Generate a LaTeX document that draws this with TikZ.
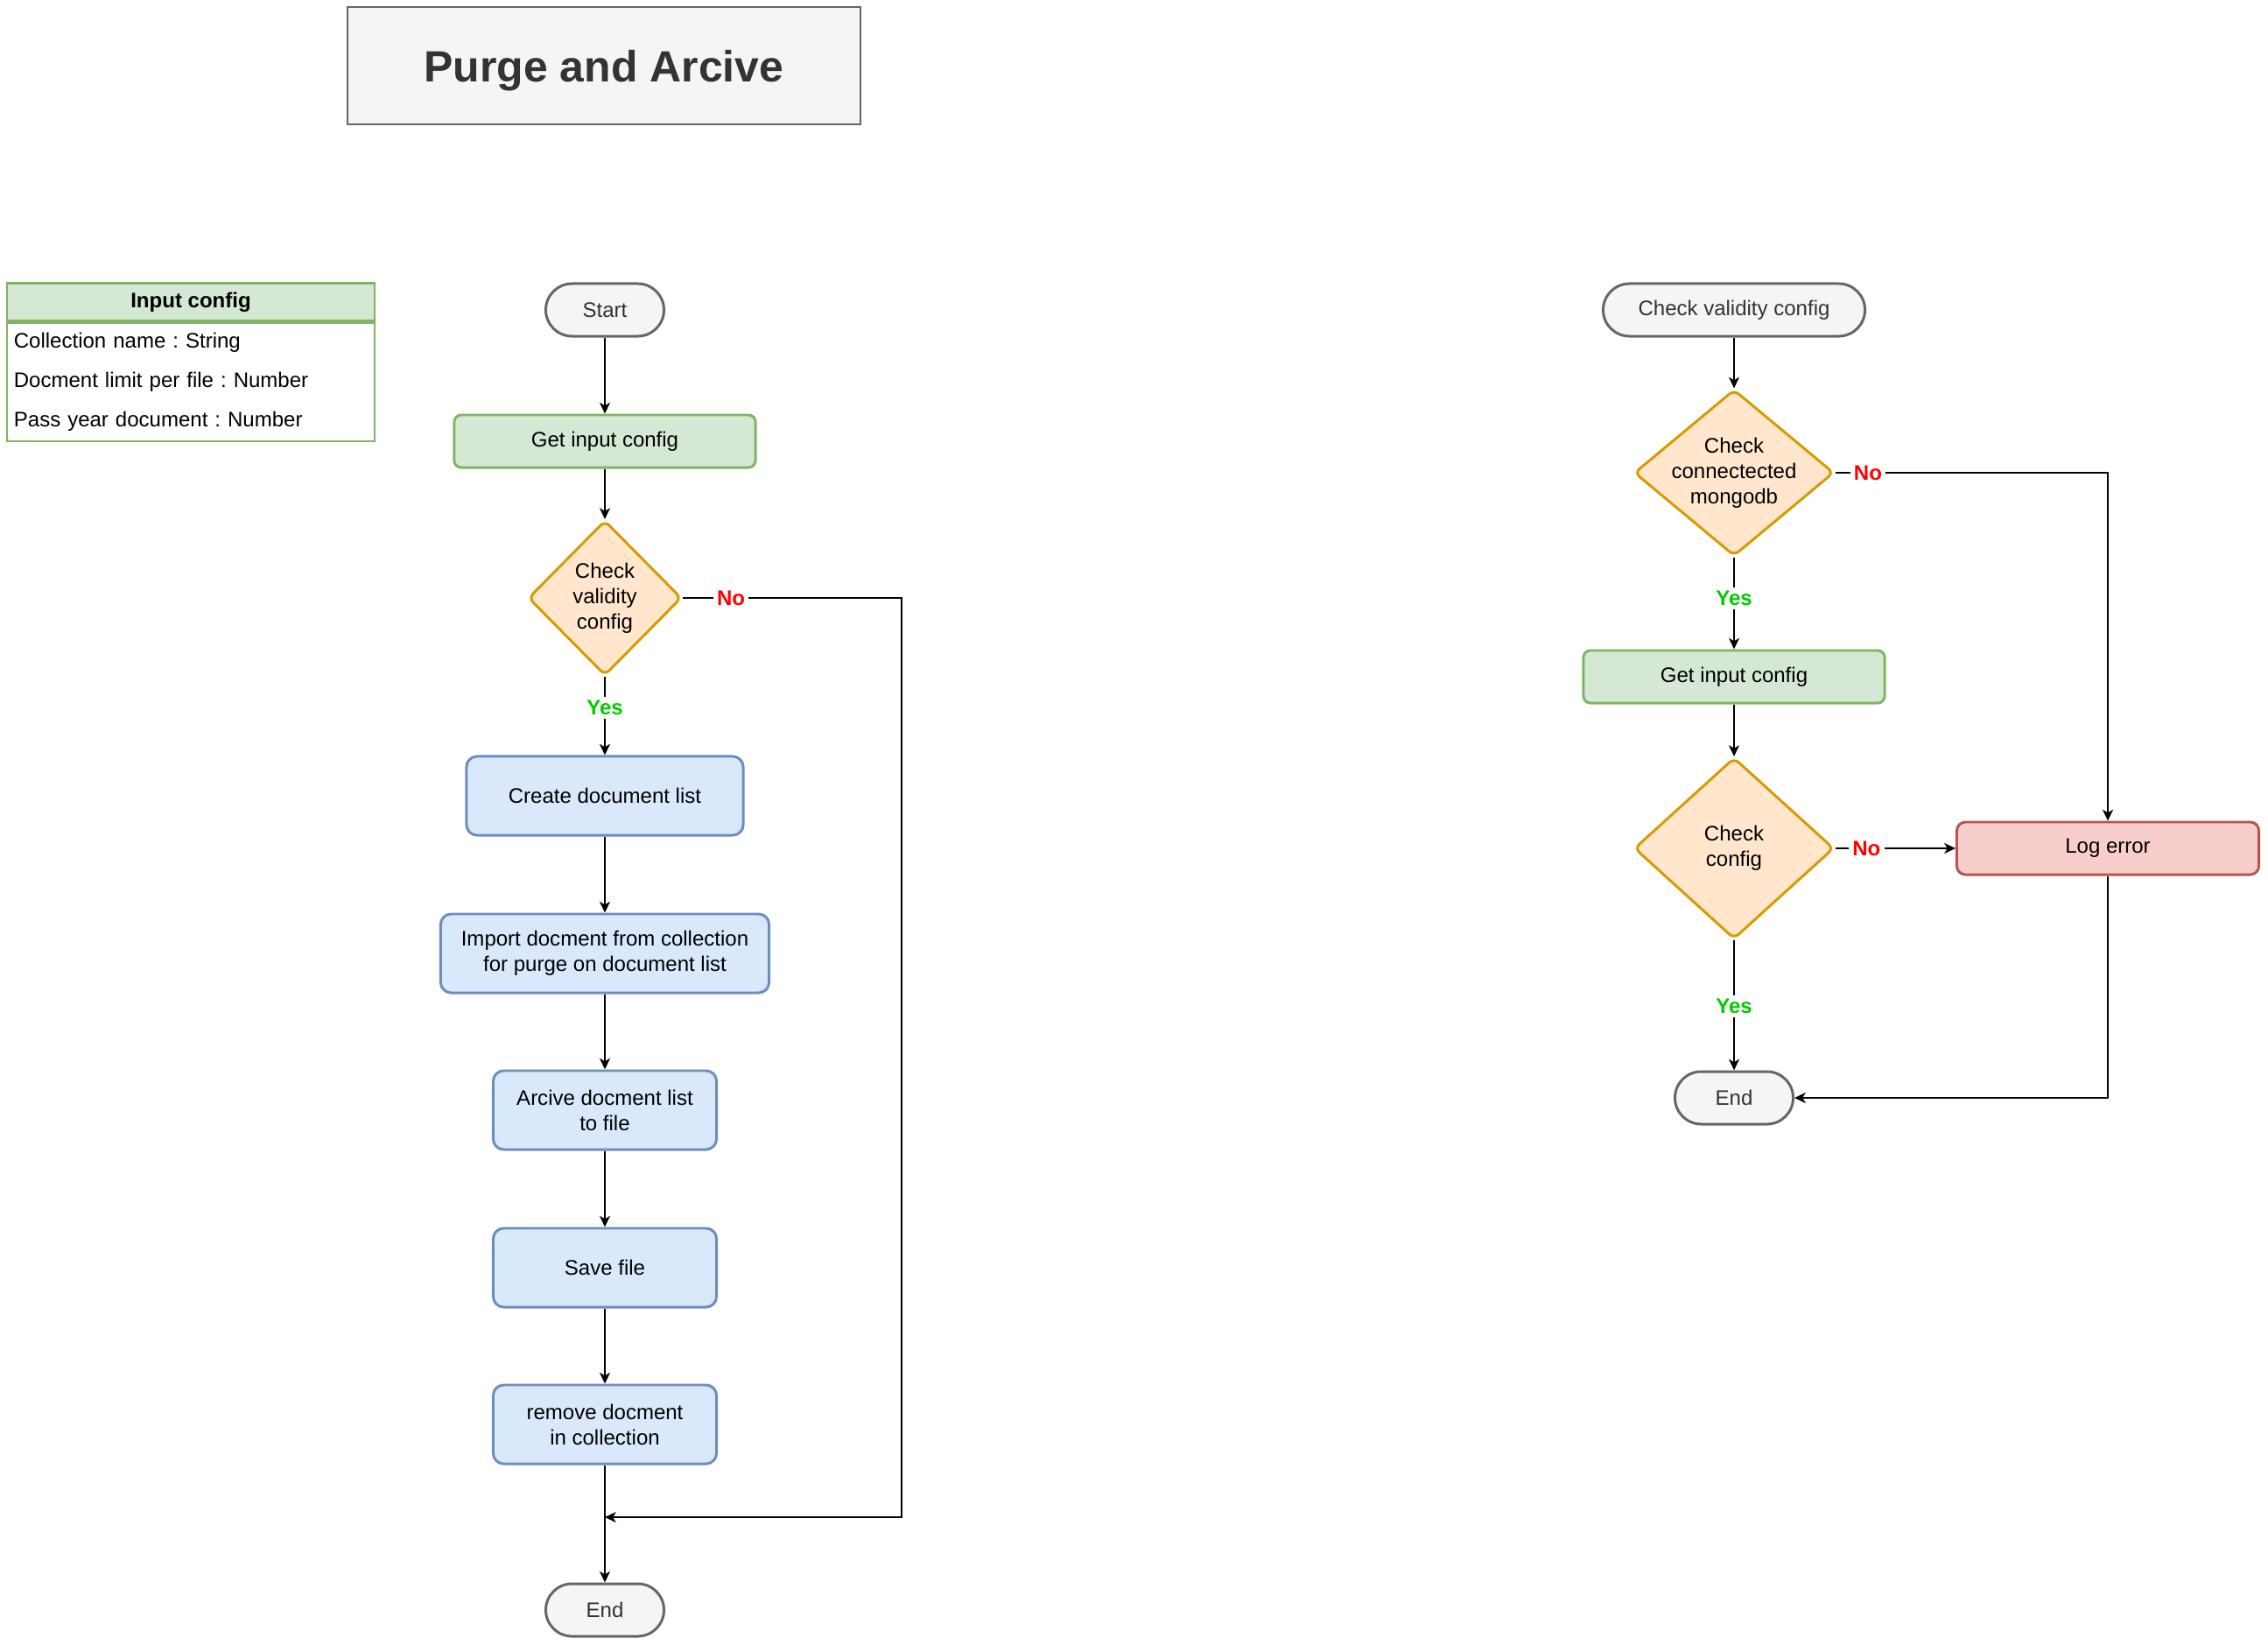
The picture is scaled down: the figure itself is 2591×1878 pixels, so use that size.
\documentclass[tikz,border=0pt]{standalone}
\usepackage{fontspec}
\setmainfont{Liberation Sans}
\usepackage{xcolor}
\usepackage{tikz}
\usetikzlibrary{positioning, arrows.meta, shapes.geometric, calc}
\definecolor{dioGray}{HTML}{F5F5F5}
\definecolor{dioGrayLine}{HTML}{666666}
\definecolor{dioText}{HTML}{333333}
\definecolor{dioGreen}{HTML}{D5E8D4}
\definecolor{dioGreenLine}{HTML}{82B366}
\definecolor{dioOrange}{HTML}{FFE6CC}
\definecolor{dioOrangeLine}{HTML}{D79B00}
\definecolor{dioBlue}{HTML}{DAE8FC}
\definecolor{dioBlueLine}{HTML}{6C8EBF}
\definecolor{dioRed}{HTML}{F8CECC}
\definecolor{dioRedLine}{HTML}{B85450}
\definecolor{yesGreen}{HTML}{00CC00}
\definecolor{noRed}{HTML}{FF0000}

\begin{document}
\begin{tikzpicture}[
    x=0.01cm, y=-0.01cm,
    base/.style={font=\fontsize{6.83}{8.3}\selectfont, align=center, line width=0.85pt, inner sep=0pt},
    term/.style={base, rectangle, rounded corners=0.3cm, draw=dioGrayLine, fill=dioGray, text=dioText, minimum height=0.6cm, minimum width=1.35cm},
    getbox/.style={base, rectangle, rounded corners=0.08cm, draw=dioGreenLine, fill=dioGreen, minimum width=3.44cm, minimum height=0.6cm},
    process/.style={base, rectangle, rounded corners=0.12cm, draw=dioBlueLine, fill=dioBlue, minimum height=0.9cm},
    errbox/.style={base, rectangle, rounded corners=0.1cm, draw=dioRedLine, fill=dioRed, minimum width=3.45cm, minimum height=0.6cm},
    decision/.style={base, diamond, draw=dioOrangeLine, fill=dioOrange, rounded corners=2pt},
    dtext/.style={font=\fontsize{6.83}{8.3}\selectfont, align=center, inner sep=0pt},
    titlebox/.style={rectangle, draw=dioGrayLine, fill=dioGray, line width=0.6pt, text=dioText, font=\fontsize{14.2}{17}\selectfont\bfseries, text depth=0pt, minimum width=5.85cm, minimum height=1.34cm},
    tablehead/.style={rectangle, draw=dioGreenLine, fill=dioGreen, line width=0.6pt, font=\fontsize{6.83}{8.3}\selectfont\bfseries, minimum width=4.2cm, minimum height=0.43cm, inner sep=0pt},
    tablebody/.style={rectangle, draw=dioGreenLine, fill=white, line width=0.6pt, font=\fontsize{6.83}{12.9}\selectfont\frenchspacing, text width=4.04cm, minimum height=1.35cm, align=left, inner xsep=0.08cm, inner ysep=0pt},
    arrow/.style={-{Stealth[length=3.6pt, width=3.4pt, inset=1pt]}, line width=0.57pt},
    yeslbl/.style={fill=white, text=yesGreen, font=\fontsize{6.83}{8.3}\selectfont\bfseries, inner sep=1.2pt},
    nolbl/.style={fill=white, text=noRed, font=\fontsize{6.83}{8.3}\selectfont\bfseries, inner sep=1.2pt}
]
\useasboundingbox (0,0) rectangle (2591,1878);

% Title and config table
\node[titlebox] (title) at (690,75) {Purge and Arcive};
\node[tablehead] (cfghead) at (218,345) {Input config};
\node[tablebody, below=0pt of cfghead] (cfgbody) {Collection name : String\\Docment limit per file : Number\\Pass year document : Number};

% Main flow
\node[term] (start) at (691,354) {Start};
\node[getbox] (getcfg) at (691,504) {Get input config};
\node[decision, minimum width=1.75cm, minimum height=1.77cm,
      label={[dtext]center:Check\\validity\\config}] (chkvalid) at (691,683) {};
\node[process, minimum width=3.16cm] (create) at (691,909) {Create document list};
\node[process, minimum width=3.75cm] (import) at (691,1089) {Import docment from collection\\for purge on document list};
\node[process, minimum width=2.55cm] (arcive) at (691,1268) {Arcive docment list\\to file};
\node[process, minimum width=2.55cm] (save) at (691,1448) {Save file};
\node[process, minimum width=2.55cm] (remove) at (691,1627) {remove docment\\in collection};
\node[term] (endL) at (691,1839) {End};
\coordinate (join) at (691,1733);

% Validity check flow
\node[term, minimum width=2.99cm] (startR) at (1981,354) {Check validity config};
\node[decision, minimum width=2.28cm, minimum height=1.90cm,
      label={[dtext]center:Check\\connectected\\mongodb}] (chkconn) at (1981,540) {};
\node[getbox] (getcfgR) at (1981,773) {Get input config};
\node[decision, minimum width=2.28cm, minimum height=2.07cm,
      label={[dtext]center:Check\\config}] (chkcfg) at (1981,969) {};
\node[errbox] (logerr) at (2408,969) {Log error};
\node[term] (endR) at (1981,1254) {End};

% Arrows
\draw[arrow] (start) -- (getcfg);
\draw[arrow] (getcfg) -- (chkvalid);
\draw[arrow] (chkvalid) -- node[yeslbl, pos=0.4] {Yes} (create);
\draw[arrow] (create) -- (import);
\draw[arrow] (import) -- (arcive);
\draw[arrow] (arcive) -- (save);
\draw[arrow] (save) -- (remove);
\draw[arrow] (remove) -- (endL);
\draw[arrow] (chkvalid.east) -- node[nolbl, pos=0.22] {No} ++(250,0) |- (join);

\draw[arrow] (startR) -- (chkconn);
\draw[arrow] (chkconn) -- node[yeslbl, pos=0.45] {Yes} (getcfgR);
\draw[arrow] (getcfgR) -- (chkcfg);
\draw[arrow] (chkcfg) -- node[nolbl, pos=0.26] {No} (logerr);
\draw[arrow] (chkcfg) -- node[yeslbl, pos=0.51] {Yes} (endR);
\draw[arrow] (chkconn.east) -- node[nolbl, pos=0.12] {No} (chkconn.east -| logerr.north) -- (logerr.north);
\draw[arrow] (logerr.south) |- (endR.east);
\end{tikzpicture}
\end{document}
